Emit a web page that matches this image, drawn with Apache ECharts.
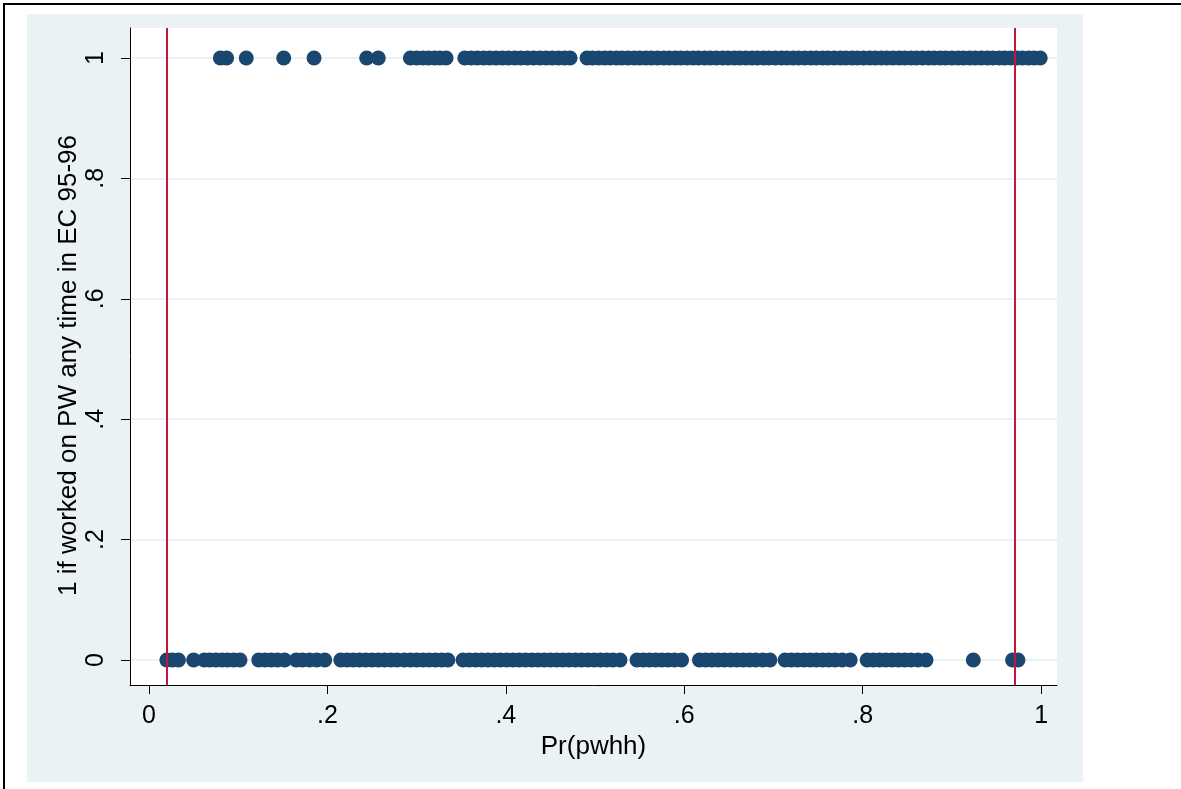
<!DOCTYPE html>
<html>
<head>
<meta charset="utf-8">
<script src="https://cdn.jsdelivr.net/npm/echarts@6/dist/echarts.min.js"></script>
<style>
  html, body { margin: 0; padding: 0; background: #ffffff; width: 1181px; height: 789px; overflow: hidden; }
  #frame { position: absolute; left: 3px; top: 3px; width: 1200px; height: 800px; border-left: 2px solid #000; border-top: 2px solid #000; }
  #bg { position: absolute; left: 27px; top: 14px; width: 1056px; height: 768px; background: #EAF2F3; }
  #chart { position: absolute; left: 0; top: 0; width: 1181px; height: 789px; }
</style>
</head>
<body>
<div id="frame"></div>
<div id="bg"></div>
<div id="chart"></div>
<script>
// Propensity scores of those who worked on PW (y = 1)
const workedScores = [
  0.080, 0.087, 0.109, 0.151, 0.185, 0.244, 0.257,
  0.293, 0.300, 0.307, 0.313, 0.320, 0.326, 0.333,
  0.354, 0.361, 0.368, 0.375, 0.382, 0.389, 0.396, 0.403, 0.410, 0.417, 0.424, 0.431, 0.438, 0.445, 0.452, 0.459, 0.466, 0.472,
  0.491, 0.497, 0.504, 0.511, 0.517, 0.524, 0.530, 0.537, 0.544, 0.550, 0.557, 0.563, 0.570, 0.577, 0.583, 0.590, 0.596,
  0.603, 0.610, 0.616, 0.623, 0.629, 0.636, 0.643, 0.649, 0.656, 0.662, 0.669, 0.676, 0.682, 0.689, 0.695,
  0.702, 0.709, 0.715, 0.722, 0.728, 0.735, 0.742, 0.748, 0.755, 0.761, 0.768, 0.775, 0.781, 0.788, 0.794,
  0.801, 0.808, 0.814, 0.821, 0.827, 0.834, 0.841, 0.847, 0.854, 0.860, 0.867, 0.874, 0.880, 0.887, 0.893,
  0.900, 0.907, 0.913, 0.920, 0.926, 0.933, 0.940, 0.946, 0.953, 0.959, 0.966, 0.973, 0.979, 0.986, 0.992, 0.999
];
// Propensity scores of those who did not work on PW (y = 0)
const notWorkedScores = [
  0.020, 0.026, 0.033,
  0.050, 0.062, 0.068, 0.075, 0.082, 0.088, 0.095, 0.102,
  0.123, 0.130, 0.137, 0.144, 0.152, 0.165, 0.172, 0.180, 0.188, 0.197,
  0.215, 0.222, 0.229, 0.236, 0.243, 0.250, 0.257, 0.264, 0.271, 0.278, 0.286, 0.293, 0.300, 0.307, 0.314, 0.321, 0.328, 0.335,
  0.352, 0.359, 0.366, 0.373, 0.380, 0.387, 0.394, 0.401, 0.408, 0.415, 0.422, 0.429, 0.436, 0.443, 0.450, 0.457, 0.464,
  0.471, 0.478, 0.485, 0.492, 0.499, 0.506, 0.513, 0.520, 0.528,
  0.547, 0.554, 0.561, 0.568, 0.575, 0.582, 0.589, 0.597,
  0.617, 0.624, 0.631, 0.638, 0.645, 0.652, 0.659, 0.666, 0.673, 0.680, 0.688, 0.696,
  0.713, 0.720, 0.727, 0.734, 0.741, 0.748, 0.755, 0.762, 0.769, 0.777, 0.786,
  0.805, 0.812, 0.819, 0.826, 0.833, 0.840, 0.847, 0.854, 0.862, 0.871,
  0.924,
  0.968, 0.974
];
// Common support bounds (vertical lines)
const supportBounds = [0.019, 0.970];

const xTickValues = [0, 0.2, 0.4, 0.6, 0.8, 1];
const xTickLabels = ['0', '.2', '.4', '.6', '.8', '1'];
const yTickValues = [0, 0.2, 0.4, 0.6, 0.8, 1];
const yTickLabels = ['0', '.2', '.4', '.6', '.8', '1'];

const xTitle = 'Pr(pwhh)';
const yTitle = '1 if worked on PW any time in EC 95-96';

const FONT = '"Liberation Sans", Arial, sans-serif';
const NAVY = '#1A476F';

function labelFor(values, labels) {
  return function (v) {
    for (let i = 0; i < values.length; i++) {
      if (Math.abs(values[i] - v) < 1e-9) return labels[i];
    }
    return '';
  };
}

const chart = echarts.init(document.getElementById('chart'), null, { renderer: 'canvas' });
chart.setOption({
  animation: false,
  backgroundColor: 'transparent',
  grid: {
    left: 130, top: 28, right: 124, bottom: 104,
    show: true, backgroundColor: '#ffffff', borderWidth: 0
  },
  xAxis: {
    type: 'value',
    min: -0.0213, max: 1.0178,
    name: xTitle,
    nameLocation: 'middle',
    nameGap: 39,
    nameTextStyle: { fontFamily: FONT, fontSize: 26, color: '#000' },
    axisLine: { show: true, onZero: false, lineStyle: { color: '#000', width: 1 } },
    axisTick: { show: true, length: 9, lineStyle: { color: '#000', width: 1 }, customValues: xTickValues },
    axisLabel: { fontFamily: FONT, fontSize: 25, color: '#000', margin: 19, customValues: xTickValues, formatter: labelFor(xTickValues, xTickLabels) },
    splitLine: { show: false }
  },
  yAxis: {
    type: 'value',
    min: -0.0415, max: 1.0498,
    name: yTitle,
    nameLocation: 'middle',
    nameRotate: 90,
    nameGap: 48,
    nameMoveOverlap: false,
    nameTextStyle: { fontFamily: FONT, fontSize: 26, color: '#000', padding: [0, 18, 0, 0] },
    axisLine: { show: true, onZero: false, lineStyle: { color: '#000', width: 1 } },
    axisTick: { show: true, length: 9, lineStyle: { color: '#000', width: 1 }, customValues: yTickValues },
    axisLabel: { fontFamily: FONT, fontSize: 25, color: '#000', margin: 21, rotate: 90, customValues: yTickValues, formatter: labelFor(yTickValues, yTickLabels) },
    splitLine: { show: true, lineStyle: { color: '#EAF2F3', width: 2 } }
  },
  series: [
    {
      type: 'scatter',
      symbol: 'circle',
      symbolSize: 15,
      itemStyle: { color: NAVY, opacity: 1 },
      data: notWorkedScores.map(v => [v, 0]),
      z: 3
    },
    {
      type: 'scatter',
      symbol: 'circle',
      symbolSize: 15,
      itemStyle: { color: NAVY, opacity: 1 },
      data: workedScores.map(v => [v, 1]),
      z: 3,
      markLine: {
        silent: true,
        symbol: ['none', 'none'],
        label: { show: false },
        lineStyle: { color: '#C8143C', width: 2, type: 'solid' },
        data: supportBounds.map(v => ({ xAxis: v })),
        z: 4
      }
    }
  ]
});
</script>
</body>
</html>
